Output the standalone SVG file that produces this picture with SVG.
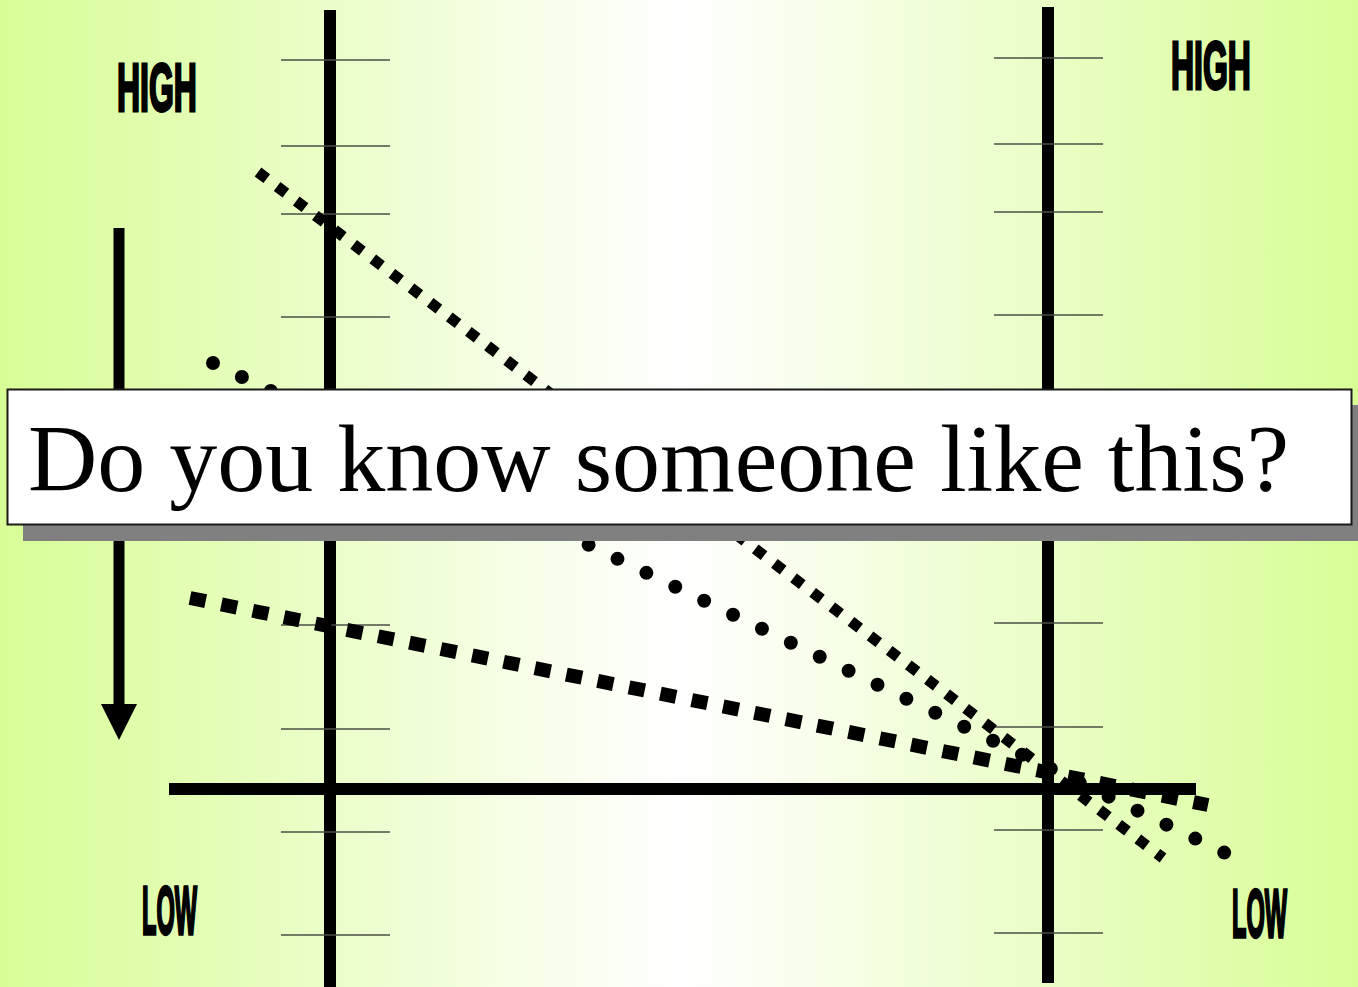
<svg xmlns="http://www.w3.org/2000/svg" width="1358" height="987" viewBox="0 0 1358 987">
<defs>
<linearGradient id="bg" x1="0" y1="0" x2="1" y2="0">
<stop offset="0" stop-color="#d8fd96"/>
<stop offset="0.5" stop-color="#ffffff"/>
<stop offset="1" stop-color="#d8fd96"/>
</linearGradient>
</defs>
<style>
.axis{stroke:#000;stroke-width:12;fill:none}
.tick{stroke:#4a4f44;stroke-width:1.5}
.lbl{font-family:"Liberation Sans",Arial,sans-serif;font-weight:bold;font-size:68px;fill:#000;stroke:#000;stroke-width:2.5;vector-effect:non-scaling-stroke}
.sq{stroke:#000;fill:none;stroke-width:11;stroke-dasharray:11 13}
.sq2{stroke:#000;fill:none;stroke-width:14;stroke-dasharray:16 16}
.dot{stroke:#000;fill:none;stroke-width:14;stroke-linecap:round;stroke-dasharray:0 32.1}
</style>
<rect x="0" y="0" width="1358" height="987" fill="url(#bg)"/>
<g id="axes">
<line class="axis" x1="330" y1="10" x2="330" y2="987"/>
<line class="axis" x1="1048" y1="7" x2="1048" y2="983"/>
<line class="axis" x1="169" y1="789" x2="1196" y2="789"/>
</g>
<g id="ticks">
<line class="tick" x1="281" y1="60" x2="390" y2="60"/>
<line class="tick" x1="281" y1="146" x2="390" y2="146"/>
<line class="tick" x1="281" y1="214" x2="390" y2="214"/>
<line class="tick" x1="281" y1="317" x2="390" y2="317"/>
<line class="tick" x1="281" y1="625" x2="390" y2="625"/>
<line class="tick" x1="281" y1="729" x2="390" y2="729"/>
<line class="tick" x1="281" y1="832" x2="390" y2="832"/>
<line class="tick" x1="281" y1="935" x2="390" y2="935"/>
<line class="tick" x1="994" y1="58" x2="1103" y2="58"/>
<line class="tick" x1="994" y1="144" x2="1103" y2="144"/>
<line class="tick" x1="994" y1="212" x2="1103" y2="212"/>
<line class="tick" x1="994" y1="315" x2="1103" y2="315"/>
<line class="tick" x1="994" y1="623" x2="1103" y2="623"/>
<line class="tick" x1="994" y1="727" x2="1103" y2="727"/>
<line class="tick" x1="994" y1="830" x2="1103" y2="830"/>
<line class="tick" x1="994" y1="933" x2="1103" y2="933"/>
</g>
<g id="arrow">
<line x1="119" y1="228" x2="119" y2="706" stroke="#000" stroke-width="11"/>
<polygon points="101,704 137,704 119,740" fill="#000"/>
</g>
<g id="labels">
<text class="lbl" transform="translate(117,111) scale(0.47,1)">HIGH</text>
<text class="lbl" transform="translate(1171,89) scale(0.47,1)">HIGH</text>
<text class="lbl" transform="translate(142,934) scale(0.347,1)">LOW</text>
<text class="lbl" transform="translate(1232,937) scale(0.347,1)">LOW</text>
</g>
<g id="connectors">
<line class="sq" x1="258" y1="172" x2="1163" y2="858"/>
<line class="dot" x1="213" y1="363" x2="1225" y2="853"/>
<line class="sq2" x1="190" y1="598" x2="1208" y2="805"/>
</g>
<g id="question">
<rect x="23" y="405" width="1345" height="136" fill="#808080"/>
<rect x="7.5" y="389.5" width="1344" height="135" fill="#fff" stroke="#1a1a1a" stroke-width="2"/>
<text x="28" y="491" font-family="'Liberation Serif','Times New Roman',serif" font-size="96" fill="#000">Do you know someone like this?</text>
</g>
</svg>
